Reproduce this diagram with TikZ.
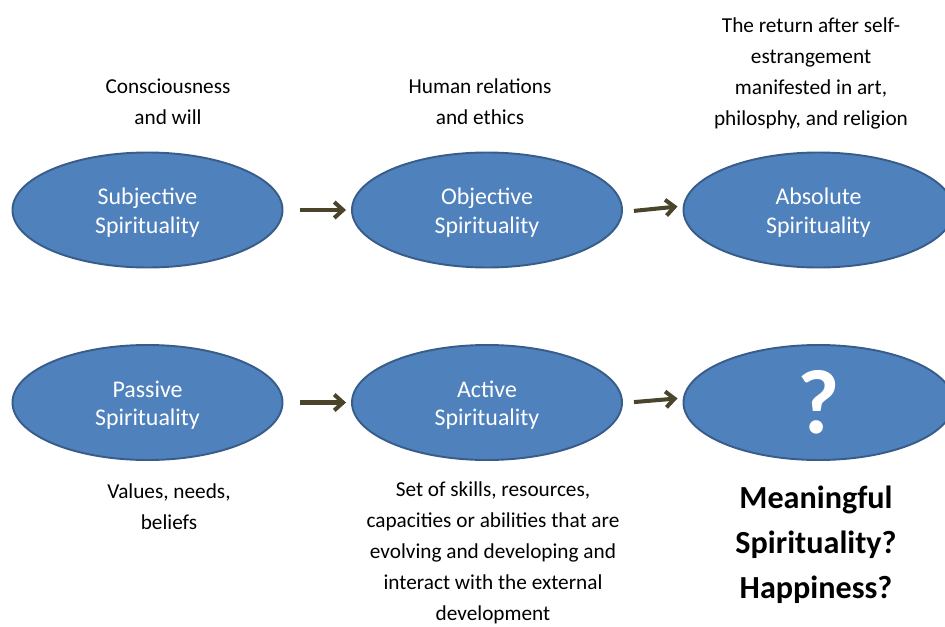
\documentclass[tikz,border=0pt]{standalone}
\usepackage{fontspec}
\setmainfont{Carlito}
\usetikzlibrary{arrows.meta, shapes.geometric}

\definecolor{ovalfill}{HTML}{4F81BD}
\definecolor{ovaledge}{HTML}{385D8A}
\definecolor{arrowdark}{HTML}{4A452A}

\begin{document}
\begin{tikzpicture}[
    stage/.style={ellipse, draw=ovaledge, fill=ovalfill, line width=1.1pt, minimum width=5.4cm, minimum height=2.3cm, inner sep=0pt, text=white, align=center, text height=28pt, text depth=1.4pt, font=\fontsize{13.6}{16.4}\selectfont},
    note/.style={align=center, font=\fontsize{12.1}{17.6}\selectfont},
    flow/.style={-{Straight Barb[length=5pt, width=9pt]}, line width=2.3pt, draw=arrowdark, shorten >=0.1cm}
]
\useasboundingbox (0, 0) rectangle (18.9, -12.52);
\clip (0, 0) rectangle (18.9, -12.52);

\node[stage] (subj) at (2.95, -4.2) {Subjective\\Spirituality};
\node[stage] (obj) at (9.74, -4.2) {Objective\\Spirituality};
\node[stage] (abs) at (16.37, -4.2) {Absolute\\Spirituality};
\node[stage] (pass) at (2.95, -8.05) {Passive\\Spirituality};
\node[stage] (act) at (9.74, -8.05) {Active\\Spirituality};
\node[stage, text height=, text depth=, font=\bfseries\fontsize{52}{60}\selectfont] (quest) at (16.37, -8.05) {?};

\node[note] (will) at (3.36, -2.03) {Consciousness\\and will};
\node[note] (ethics) at (9.6, -2.03) {Human relations\\and ethics};
\node[note] (return) at (16.22, -1.47) {The return after self-\\estrangement\\manifested in art,\\philosphy, and religion};
\node[note] (values) at (3.38, -10.14) {Values, needs,\\beliefs};
\node[note] (skills) at (9.86, -11.06) {Set of skills, resources,\\capacities or abilities that are\\evolving and developing and\\interact with the external\\development};
\node[note, font=\bfseries\fontsize{18.3}{25.5}\selectfont] (happy) at (16.32, -10.9) {Meaningful\\Spirituality?\\Happiness?};

\draw[flow, shorten <=0.34cm] (subj) -- (obj);
\draw[flow, shorten <=0.22cm] ([yshift=-0.04cm]obj.east) -- ([yshift=0.08cm]abs.west);
\draw[flow, shorten <=0.34cm] (pass) -- (act);
\draw[flow, shorten <=0.22cm] ([yshift=-0.01cm]act.east) -- ([yshift=0.09cm]quest.west);

\end{tikzpicture}
\end{document}
